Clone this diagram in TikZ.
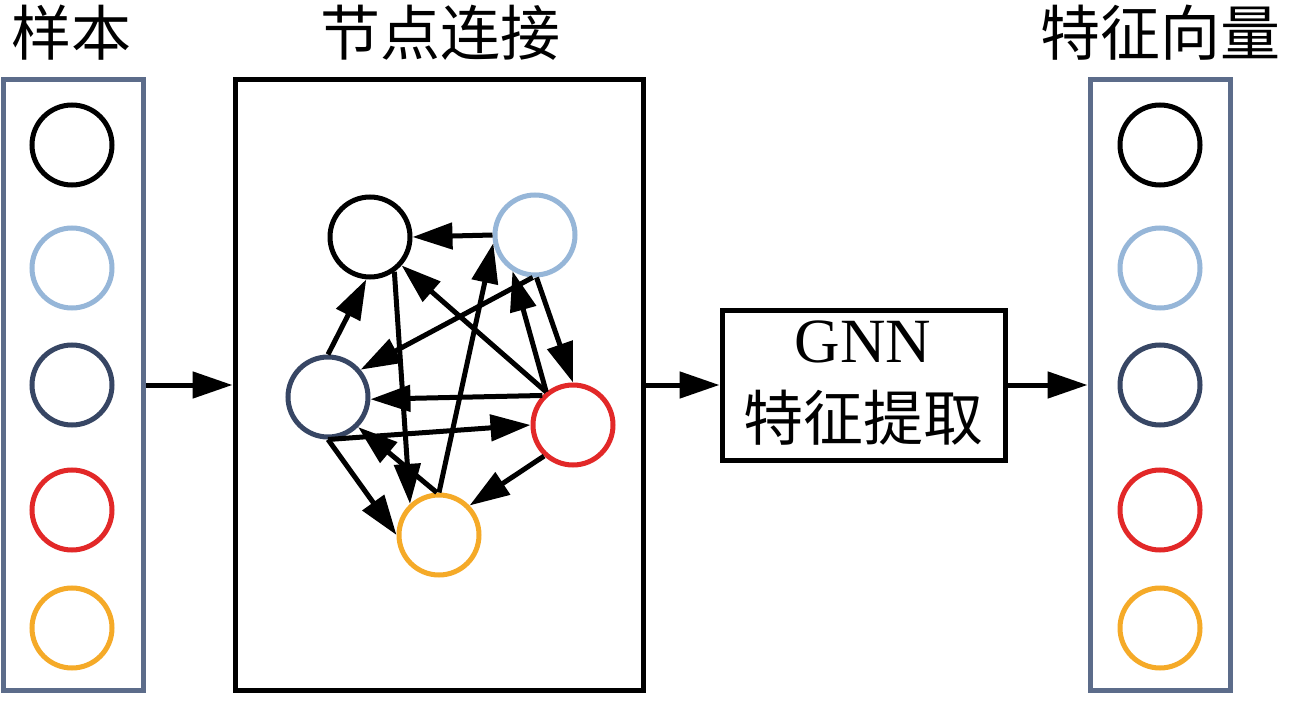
\documentclass[tikz,border=0pt]{standalone}
\usepackage{fontspec}
\setmainfont{Liberation Serif}
\newfontfamily\cjk{Noto Sans CJK SC}
\usetikzlibrary{arrows.meta}
\definecolor{cLB}{RGB}{150,182,216}
\definecolor{cNV}{RGB}{55,70,100}
\definecolor{cRD}{RGB}{226,40,40}
\definecolor{cOR}{RGB}{245,170,40}
\definecolor{cBX}{RGB}{92,108,138}
\tikzset{
  nd/.style={circle,draw,line width=5pt,minimum size=80pt,inner sep=0pt,fill=white},
  arr/.style={line width=5pt,-{Triangle[length=40pt,width=26pt]}},
  ttl/.style={font=\cjk\fontsize{60}{64}\selectfont,inner sep=0pt},
  colbox/.style={draw=cBX,line width=5pt},
  blk/.style={draw=black,line width=5pt}
}
\begin{document}
\begin{tikzpicture}[x=1pt,y=-1pt]
\useasboundingbox[fill=white] (0,0) rectangle (1291,722);
% titles
\node[ttl] (t1) at (72,33) {样本};
\node[ttl] (t2) at (440,33) {节点连接};
\node[ttl] (t3) at (1160,33) {特征向量};
% boxes
\node[colbox,minimum width=140pt,minimum height=610pt,inner sep=0pt] (lbox) at (73,385) {};
\node[blk,minimum width=408pt,minimum height=610pt,inner sep=0pt] (cbox) at (439,385) {};
\node[colbox,minimum width=140pt,minimum height=610pt,inner sep=0pt] (rbox) at (1160,385) {};
\node[blk,minimum width=283pt,minimum height=150pt,inner sep=0pt] (gnn) at (863.5,385) {};
\node[inner sep=0pt,font=\fontsize{63}{66}\selectfont] (g1) at (863,342) {GNN};
\node[inner sep=0pt,font=\cjk\fontsize{60}{64}\selectfont] (g2) at (863,418) {特征提取};
% left column
\node[nd,draw=black] (l1) at (72,145) {};
\node[nd,draw=cLB] (l2) at (72,268) {};
\node[nd,draw=cNV] (l3) at (72,385) {};
\node[nd,draw=cRD] (l4) at (72,510) {};
\node[nd,draw=cOR] (l5) at (72,628) {};
% right column
\node[nd,draw=black] (r1) at (1160,145) {};
\node[nd,draw=cLB] (r2) at (1160,268) {};
\node[nd,draw=cNV] (r3) at (1160,385) {};
\node[nd,draw=cRD] (r4) at (1160,510) {};
\node[nd,draw=cOR] (r5) at (1160,628) {};
% graph
\node[nd,draw=black] (bk) at (370,237) {};
\node[nd,draw=cLB] (lb) at (535,235) {};
\node[nd,draw=cNV] (nv) at (328,397) {};
\node[nd,draw=cRD] (rd) at (573,425) {};
\node[nd,draw=cOR] (og) at (439,535) {};
\draw[arr] (lb.180) -- (bk.0);
\draw[arr] (nv.90) -- (bk.265);
\draw[arr] (rd.129) -- (bk.318);
\draw[arr] (bk.305) -- (og.133);
\draw[arr] (og.90) -- (lb.191);
\draw[arr] (lb.267) -- (nv.40);
\draw[arr] (lb.272) -- (rd.90);
\draw[arr] (rd.129) -- (lb.238);
\draw[arr] (rd.136) -- (nv.357);
\draw[arr] (nv.270) -- (rd.180);
\draw[arr] (nv.270) -- (og.180);
\draw[arr] (og.93) -- (nv.315);
\draw[arr] (rd.227) -- (og.44);
% flow
\draw[arr] (lbox.east) -- (cbox.west);
\draw[arr] (cbox.east) -- (gnn.west);
\draw[arr] (gnn.east) -- (rbox.west);
\end{tikzpicture}
\end{document}
